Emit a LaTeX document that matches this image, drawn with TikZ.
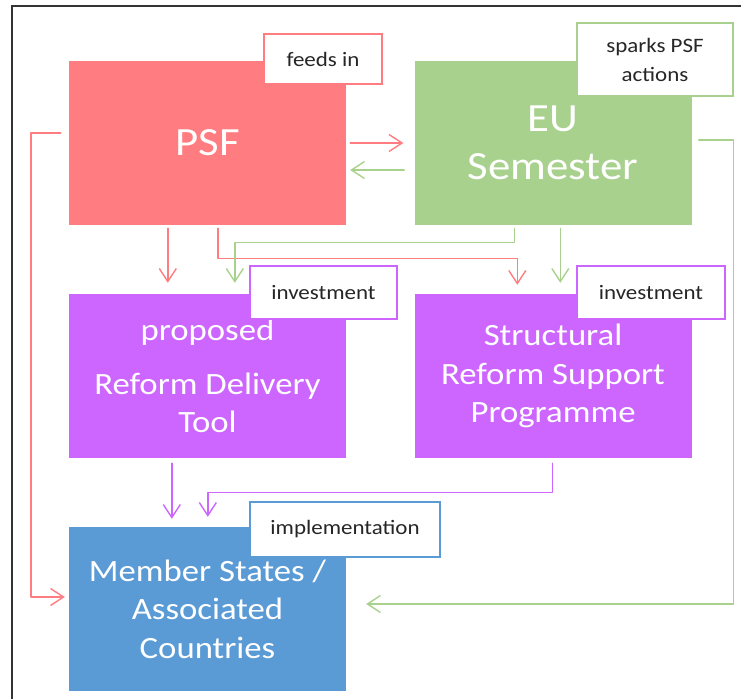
\documentclass[tikz,border=0pt]{standalone}
\usepackage{fontspec}
\setmainfont{Carlito}[FakeStretch=1.12]
\usetikzlibrary{arrows.meta,calc}
\definecolor{psfred}{HTML}{FF7C80}
\definecolor{eugreen}{HTML}{A9D18E}
\definecolor{toolpurple}{HTML}{CC66FF}
\definecolor{msblue}{HTML}{5B9BD5}
\begin{document}
\begin{tikzpicture}[x=1pt,y=-1pt,
  bigbox/.style={rectangle, minimum width=277pt, minimum height=164pt, inner sep=0pt,
    text=white, align=center, font=\fontsize{31}{38.5}\selectfont},
  hugetext/.style={font=\fontsize{40}{48}\selectfont},
  tag/.style={rectangle, draw, line width=1.6pt, fill=white, inner sep=0pt, align=center,
    text=black!85, font=\fontsize{20.5}{29}\selectfont},
  conn/.style={line width=1.4pt, -{Straight Barb[length=13pt,width=17pt]},
    line join=round, line cap=round},
  frameline/.style={line width=2pt, black!80}
]
\useasboundingbox (0,0) rectangle (741,699);
\draw[frameline] (11.5,699) -- (11.5,6) -- (741,6);

% main boxes
\node[bigbox, hugetext, fill=psfred] (psf) at (207.5,143) {PSF};
\node[bigbox, hugetext, fill=eugreen] (eu) at (553,143) {EU\\Semester};
\node[bigbox, fill=toolpurple] (rdt) at (207.5,376) {proposed\\[15pt]Reform Delivery\\Tool};
\node[bigbox, fill=toolpurple] (srsp) at (553,376) {Structural\\Reform Support\\Programme};
\node[bigbox, fill=msblue] (ms) at (207.5,609) {Member States /\\Associated\\Countries};

% connectors
\draw[conn, psfred] ($(psf.east)+(4,0)$) -- ($(eu.west)+(-11,0)$);
\draw[conn, eugreen] ($(eu.west)+(-10,27)$) -- ($(psf.east)+(4,27)$);
\draw[conn, psfred] ($(psf.west)+(-8,-10)$) -- ++(-30,0) |- ($(ms.west)+(-4,-12)$);
\draw[conn, eugreen] ($(eu.east)+(7,-3)$) -- ++(35,0) |- ($(ms.east)+(20,-5)$);
\draw[conn, psfred] ($(psf.south west)+(99,3)$) -- ($(rdt.north west)+(99,-11)$);
\draw[conn, psfred] ($(psf.south west)+(149,3)$) -- ++(0,30) -| ($(srsp.north west)+(103,-9)$);
\draw[conn, eugreen] ($(eu.south west)+(100,3)$) -- ++(0,14) -| ($(rdt.north west)+(166,-11)$);
\draw[conn, eugreen] ($(eu.south west)+(146,3)$) -- ($(srsp.north west)+(146,-11)$);
\draw[conn, toolpurple] ($(rdt.south west)+(103,5)$) -- ($(ms.north west)+(103,-8)$);
\draw[conn, toolpurple] ($(srsp.south west)+(138,5)$) -- ++(0,29) -| ($(ms.north west)+(139,-10)$);

% tags
\node[tag, draw=psfred, minimum width=118pt, minimum height=50pt] (feeds) at (323,59) {feeds in};
\node[tag, draw=eugreen, minimum width=156pt, minimum height=73pt] (sparks) at (655,59.5) {sparks PSF\\actions};
\node[tag, draw=toolpurple, minimum width=147pt, minimum height=53pt] (inv1) at (323.5,292.5) {investment};
\node[tag, draw=toolpurple, minimum width=148pt, minimum height=53pt] (inv2) at (651,292.5) {investment};
\node[tag, draw=msblue, minimum width=190pt, minimum height=55pt] (impl) at (345,529.5) {implementation};
\end{tikzpicture}
\end{document}
